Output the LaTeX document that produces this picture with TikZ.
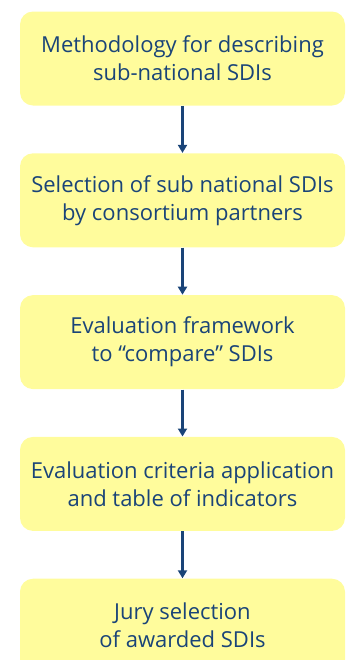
\documentclass[tikz,border=0pt]{standalone}
\usepackage{fontspec}
\setmainfont{Open Sans}
\usepackage{tikz}
\usetikzlibrary{positioning,arrows.meta}
\definecolor{boxyellow}{HTML}{FFFC9C}
\definecolor{sdiblue}{HTML}{1A4478}
\tikzstyle{stagebox} = [rectangle, rounded corners=6.5pt, fill=boxyellow, minimum width=162.5pt, minimum height=47pt, align=center, text=sdiblue, font=\fontsize{11}{14}\selectfont]
\tikzstyle{flowarrow} = [draw=sdiblue, line width=1.3pt, -{Triangle[width=4.5pt,length=4pt]}]

\begin{document}
\begin{tikzpicture}
        \useasboundingbox (0,0) rectangle (173pt,-330pt);
        \node [stagebox] (method) at (91.25pt,-29.25pt) {Methodology for describing\\sub-national SDIs};
        \node [stagebox, below=23.5pt of method] (select) {Selection of sub national SDIs\\by consortium partners};
        \node [stagebox, below=23.5pt of select] (frame) {Evaluation framework\\to ``compare'' SDIs};
        \node [stagebox, below=23.5pt of frame] (criteria) {Evaluation criteria application\\and table of indicators};
        \node [stagebox, below=23.5pt of criteria] (jury) {Jury selection\\of awarded SDIs};

        \draw [flowarrow] (method) -- (select);
        \draw [flowarrow] (select) -- (frame);
        \draw [flowarrow] (frame) -- (criteria);
        \draw [flowarrow] (criteria) -- (jury);
    \end{tikzpicture}
\end{document}
